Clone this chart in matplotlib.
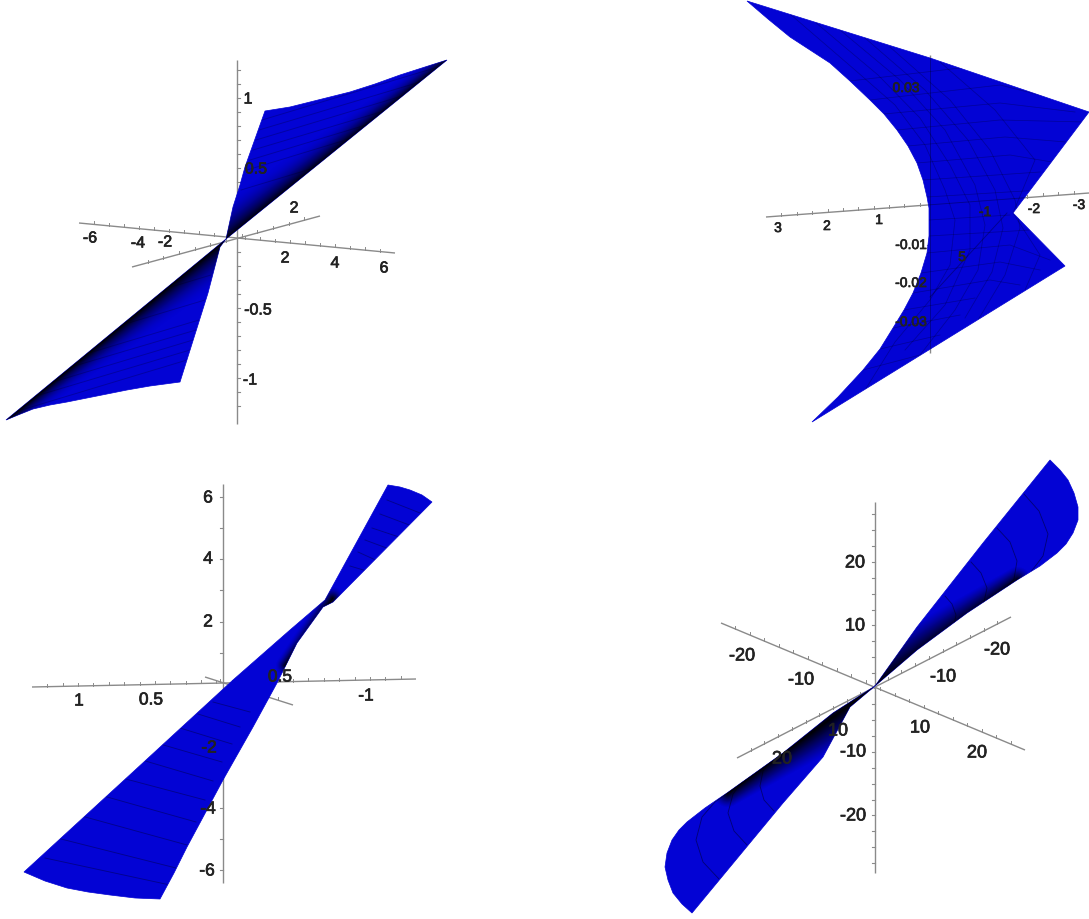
"""Four Maple-style ruled surfaces, redrawn in image pixel coordinates."""
import numpy as np
import matplotlib
matplotlib.use("Agg")
import matplotlib.pyplot as plt
import matplotlib.patheffects as pe
from matplotlib.patches import Polygon

plt.rcParams["font.family"] = ["Liberation Sans", "DejaVu Sans"]

WIDTH, HEIGHT = 1089, 919
BLUE = "#0303d4"
AXIS = "#8a8a8a"

# panel A (top left)
A_UPPER = [
    (226, 239), (233, 207), (240, 185), (245, 167), (265, 111), (290, 107), (310, 102),
    (330, 97), (350, 92), (375, 84), (400, 75), (425, 67), (447, 60),
]
A_LOWER = [
    (226, 239), (220, 247), (208, 293), (180, 382), (150, 386), (127, 390), (97, 396),
    (67, 402), (50, 405), (33, 409), (18, 415), (6, 420),
]
A_MESH = [
    [(262, 120), (438, 67)], [(259, 130), (420, 82)], [(256, 140), (402, 96)], [(253, 150), (384, 111)],
    [(250, 160), (366, 125)], [(247, 170), (349, 139)], [(241, 190), (314, 168)],
    [(187, 360), (18, 411)], [(190, 350), (36, 396)], [(193, 340), (53, 382)], [(196, 330), (71, 367)],
    [(199, 320), (89, 353)], [(205, 300), (125, 324)], [(211, 275), (171, 287)],
]
A_AXES = [[(237, 60), (237, 424)], [(79, 223), (395, 253)], [(132, 267), (320, 216)]]
A_TICK_Y = [70, 84, 98, 112, 126, 140, 154, 168, 182, 196, 210, 224, 252, 266, 280, 294, 308, 322, 336, 350, 364, 378, 392, 406]
A_LABELS = [
    ("1", 248, 99), ("0.5", 256, 169), ("-0.5", 258, 310), ("-1", 250, 380),
    ("-6", 90, 238), ("-4", 138, 243), ("-2", 165, 242),
    ("2", 285, 258), ("4", 335, 263), ("6", 384, 268), ("2", 294, 208),
]

# panel B (top right)
B_SHAPE = [
    (747, 1), (930, 58), (1089, 112), (1013, 213), (1065, 266), (812, 422),
    (838, 397), (863, 370), (880, 349), (893, 328), (904, 310), (913, 293), (921, 273),
    (927, 253), (929, 236), (929, 220), (929, 208), (927, 197), (923, 180), (917, 163),
    (908, 146), (897, 130), (884, 114), (870, 100), (850, 81), (830, 63), (810, 50),
    (790, 37), (768, 19),
]
B_MESH = [
    [(790, 14), (855, 70), (895, 105), (925, 145), (945, 190), (955, 220), (950, 265), (930, 300), (895, 342), (865, 390)],
    [(815, 22), (878, 75), (920, 118), (950, 165), (970, 205), (970, 250), (945, 305), (905, 350)],
    [(840, 30), (900, 80), (945, 130), (975, 185), (985, 225), (978, 270), (955, 310), (920, 355)],
    [(865, 38), (925, 90), (968, 140), (995, 190), (1003, 228), (992, 272), (965, 318)],
    [(890, 47), (950, 100), (990, 150), (1015, 200), (1020, 228), (1005, 275), (975, 325)],
    [(940, 62), (995, 110), (1035, 160), (1013, 213), (1040, 255), (1025, 290)],
    [(850, 81), (960, 68), (1000, 75)], [(870, 100), (1000, 85), (1060, 100)],
    [(884, 114), (1000, 103), (1075, 112)], [(897, 130), (1000, 120), (1085, 122)],
    [(908, 146), (1005, 137), (1078, 143)], [(917, 163), (1010, 155), (1070, 165)],
    [(923, 180), (1040, 172)], [(927, 197), (1040, 190)],
    [(929, 220), (1010, 215)], [(929, 236), (1030, 230)], [(927, 253), (1010, 245), (1050, 260)],
    [(921, 273), (1000, 262), (1040, 270)], [(913, 293), (990, 280), (1020, 285)],
    [(904, 310), (975, 298)], [(893, 328), (960, 315)], [(880, 349), (940, 335)], [(863, 370), (920, 355)],
]
B_AXES = [[(930, 55), (930, 353)], [(766, 217), (1089, 193)]]
B_INNER_AXES = [[(930, 297), (1007, 213)]]
B_TICK_Y = [88, 166, 245, 283, 322]
B_LABELS = [
    ("3", 778, 228), ("2", 827, 226), ("1", 879, 220), ("-1", 985, 212),
    ("-2", 1034, 209), ("-3", 1079, 205), ("-0.01", 911, 245), ("-0.02", 911, 283),
    ("-0.03", 911, 322), ("0.03", 906, 88), ("5", 962, 257),
]

# panel C (bottom left)
C_SHAPE = [
    (388, 485), (400, 487), (410, 490), (422, 495), (432, 502), (333, 602), (323, 607), (297, 643),
    (277, 683), (253, 727), (223, 780), (187, 847), (174, 873), (160, 899), (135, 898), (110, 895),
    (88, 892), (67, 888), (45, 881), (24, 872), (133, 772), (233, 680), (290, 630), (325, 600),
]
C_MESH = [
    [(45, 858), (170, 885)], [(57, 838), (176, 868)], [(78, 815), (187, 845)], [(100, 795), (196, 822)],
    [(122, 778), (205, 800)], [(142, 760), (213, 781)], [(160, 744), (222, 762)],
    [(180, 728), (232, 744)], [(198, 714), (240, 727)], [(213, 702), (250, 712)],
    [(387, 500), (420, 513)], [(380, 514), (412, 526)], [(372, 528), (402, 538)],
    [(365, 540), (392, 550)], [(358, 552), (380, 562)], [(350, 566), (370, 572)],
]
C_AXES = [[(223, 484), (223, 883)], [(32, 687), (416, 679)], [(205, 677), (293, 705)]]
C_TICK_Y = [497, 528, 559, 590, 622, 653, 715, 747, 777, 808, 839, 870]
C_LABELS = [
    ("6", 208, 498), ("4", 208, 559), ("2", 208, 622), ("-2", 209, 748),
    ("-4", 208, 809), ("-6", 207, 871), ("1", 79, 701), ("0.5", 151, 700),
    ("-1", 366, 696), ("0.5", 280, 677),
]

# panel D (bottom right)
D_UPPER = [
    (875, 686), (917, 627), (983, 543), (1050, 460), (1060, 470), (1068, 480), (1074, 493),
    (1078, 507), (1078, 520), (1073, 533), (1066, 544), (1057, 553), (1040, 566),
    (1017, 580), (967, 613), (917, 650),
]
D_LOWER = [
    (875, 686), (850, 707), (823, 757), (783, 803), (692, 913), (682, 904), (673, 893),
    (668, 880), (665, 867), (667, 853), (672, 840), (679, 830), (687, 822), (705, 808),
    (727, 793), (783, 753), (833, 713),
]
D_MESH = [
    [(1024, 494), (1039, 511), (1048, 534), (1043, 556), (1030, 573), (996, 596)],
    [(997, 528), (1010, 542), (1017, 561), (1014, 579), (1002, 593), (974, 612)],
    [(971, 562), (981, 573), (987, 588), (984, 602), (975, 613), (953, 627)],
    [(945, 596), (952, 604), (956, 615), (954, 625), (948, 632), (932, 643)],
    [(719, 879), (703, 862), (696, 840), (702, 817), (715, 802), (749, 777)],
    [(747, 845), (734, 831), (728, 813), (733, 794), (743, 781), (771, 761)],
    [(774, 811), (764, 800), (760, 786), (763, 771), (771, 761), (793, 746)],
]
D_AXES = [[(875, 502), (875, 873)], [(721, 623), (1025, 750)], [(737, 758), (1011, 617)]]
D_TICK_Y = [514, 530, 546, 562, 578, 594, 610, 625, 641, 657, 673, 704, 720, 736, 752, 768, 784, 800, 815, 831, 847, 863]
D_LABELS = [
    ("20", 855, 563), ("10", 855, 626), ("-10", 853, 752), ("-20", 853, 816),
    ("-20", 742, 656), ("-10", 801, 680), ("10", 920, 728), ("20", 977, 753),
    ("-20", 997, 650), ("-10", 943, 677), ("10", 838, 731), ("20", 782, 759),
]


def draw_axes(ax, lines, tick_y, tick_dir):
    for line in lines:
        xs, ys = zip(*line)
        ax.plot(xs, ys, color=AXIS, lw=1.0, zorder=1, solid_capstyle="butt")
        # little ticks along the slanted axes
        if xs[0] != xs[1]:
            n = int(np.hypot(xs[1] - xs[0], ys[1] - ys[0]) / 15)
            for i in range(1, n):
                t = i / n
                x, y = xs[0] + t * (xs[1] - xs[0]), ys[0] + t * (ys[1] - ys[0])
                ax.plot([x, x], [y - 3, y], color=AXIS, lw=0.7, zorder=1)
    x0 = lines[0][0][0]
    ax.plot([[x0] * len(tick_y), [x0 + tick_dir] * len(tick_y)], [tick_y, tick_y],
            color=AXIS, lw=0.8, zorder=1)


def draw_wing(ax, outline, dark_from=None, dark_to=None, w0=30, w1=20, power=2.0):
    patch = Polygon(outline, closed=True, facecolor=BLUE, edgecolor=BLUE, lw=0.5, zorder=2)
    ax.add_patch(patch)
    if dark_from is None:
        return patch
    # black band fading away from the dark edge, measured to the segment
    xs, ys = zip(*outline)
    x0, x1, y0, y1 = min(xs), max(xs), min(ys), max(ys)
    gx, gy = np.meshgrid(np.arange(x0, x1 + 1), np.arange(y0, y1 + 1))
    px, py = dark_from
    qx, qy = dark_to
    length = np.hypot(qx - px, qy - py)
    ux, uy = (qx - px) / length, (qy - py) / length
    t = np.clip(((gx - px) * ux + (gy - py) * uy) / length, 0, 1)
    d = np.hypot(gx - (px + t * (qx - px)), gy - (py + t * (qy - py)))
    width = w0 + (w1 - w0) * t
    alpha = np.clip(1 - d / width, 0, 1) ** power
    rgba = np.zeros(gx.shape + (4,))
    rgba[..., 3] = alpha * 0.98
    im = ax.imshow(rgba, extent=(x0, x1 + 1, y1 + 1, y0), origin="upper",
                   aspect="auto", zorder=3, interpolation="bilinear")
    im.set_clip_path(patch)
    return patch


def draw_mesh(ax, mesh, patch, alpha=0.3, lw=0.6):
    for line in mesh:
        xs, ys = zip(*line)
        ln, = ax.plot(xs, ys, color="black", lw=lw, alpha=alpha, zorder=4)
        ln.set_clip_path(patch)


def draw_labels(ax, labels, size):
    for txt, x, y in labels:
        t = ax.text(x, y, txt, fontsize=size, ha="center", va="center", color="#222222",
                    zorder=5, clip_on=True)
        t.set_path_effects([pe.withStroke(linewidth=0.5, foreground="#222222")])


fig = plt.figure(figsize=(WIDTH / 100, HEIGHT / 100), dpi=100, facecolor="white")
ax = fig.add_axes([0, 0, 1, 1])

draw_axes(ax, A_AXES, A_TICK_Y, 3)
p_up = draw_wing(ax, A_UPPER, (226, 239), (447, 60), w0=34, w1=14)
p_lo = draw_wing(ax, A_LOWER, (226, 239), (6, 420), w0=34, w1=14)
draw_mesh(ax, A_MESH[:7], p_up, 0.25)
draw_mesh(ax, A_MESH[7:], p_lo, 0.25)
draw_labels(ax, A_LABELS, 11.5)

draw_axes(ax, B_AXES, B_TICK_Y, -3)
p_b = draw_wing(ax, B_SHAPE)
draw_mesh(ax, B_MESH, p_b, 0.28, 0.5)
draw_mesh(ax, B_AXES + B_INNER_AXES, p_b, 0.35)
draw_labels(ax, B_LABELS, 10)

draw_axes(ax, C_AXES, C_TICK_Y, -3)
p_c = draw_wing(ax, C_SHAPE, (332, 598), (285, 665), w0=12, w1=10, power=1.5)
draw_mesh(ax, C_MESH, p_c, 0.35)
draw_labels(ax, C_LABELS, 12.5)

draw_axes(ax, D_AXES, D_TICK_Y, -3)
p_up = draw_wing(ax, D_UPPER, (875, 686), (1017, 580), w0=36, w1=14, power=1.2)
p_lo = draw_wing(ax, D_LOWER, (875, 686), (727, 793), w0=36, w1=14, power=1.2)
draw_mesh(ax, D_MESH[:4], p_up, 0.45)
draw_mesh(ax, D_MESH[4:], p_lo, 0.45)
draw_labels(ax, D_LABELS, 13)

ax.set_xlim(0, WIDTH)
ax.set_ylim(HEIGHT, 0)
ax.axis("off")

fig.savefig("out.png", dpi=100, facecolor="white")
